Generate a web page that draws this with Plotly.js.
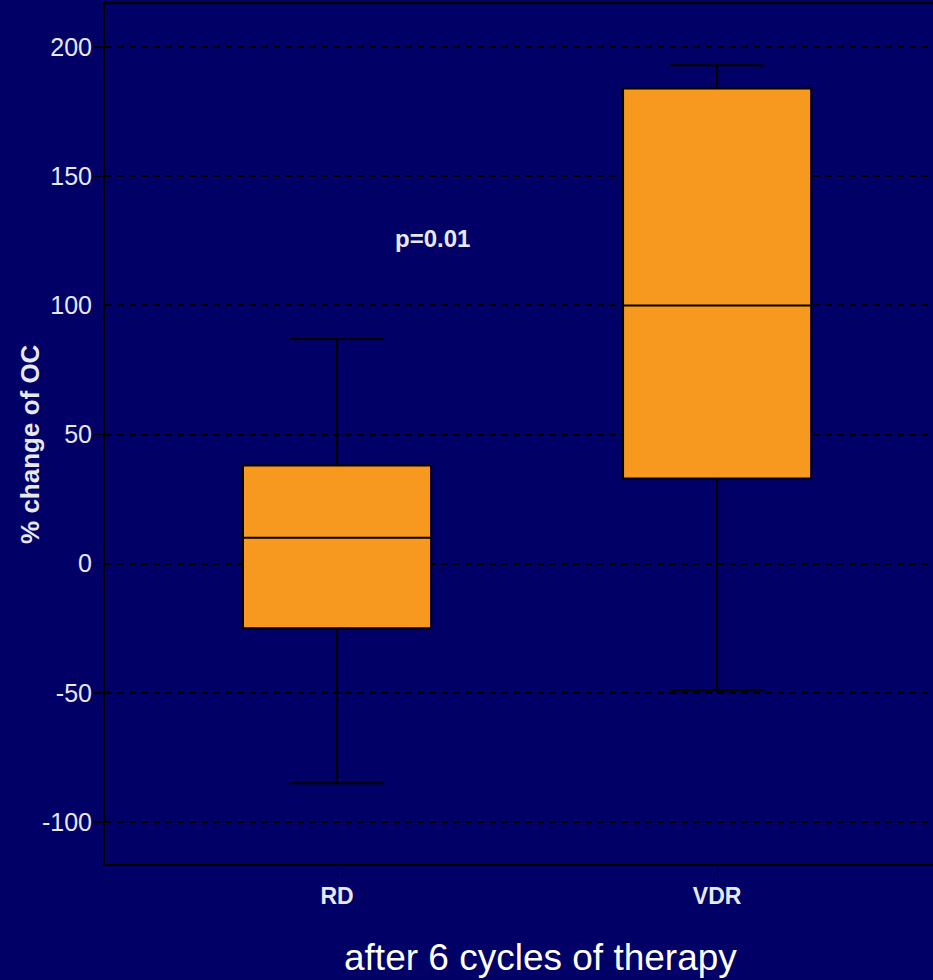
<!DOCTYPE html>
<html>
<head>
<meta charset="utf-8">
<script src="https://cdn.plot.ly/plotly-3.0.1.min.js"></script>
<style>
  html, body { margin: 0; padding: 0; background: #000066; }
  #chart { width: 933px; height: 980px; }
</style>
</head>
<body>
<div id="chart"></div>
<script>
// Treatment groups and the five-number summaries of % change of OC
var groups = ['RD', 'VDR'];
var lowerWhisker = [-85, -49];
var q1Values = [-25, 33];
var medianValues = [10, 100];
var q3Values = [38, 184];
var upperWhisker = [87, 193];

var yTicks = [-100, -50, 0, 50, 100, 150, 200];
var pValueText = 'p=0.01';

var NAVY = '#000066';
var ORANGE = '#F7991F';
var TEXT = '#E8E8F0';
var FONT = 'Liberation Sans, Arial, sans-serif';

var trace = {
  type: 'box',
  x: groups,
  q1: q1Values,
  median: medianValues,
  q3: q3Values,
  lowerfence: lowerWhisker,
  upperfence: upperWhisker,
  boxpoints: false,
  fillcolor: ORANGE,
  line: { color: '#000000', width: 2 },
  width: 0.495,
  whiskerwidth: 0.5,
  hoverinfo: 'skip',
  showlegend: false
};

var layout = {
  width: 933,
  height: 980,
  paper_bgcolor: NAVY,
  plot_bgcolor: NAVY,
  margin: { l: 105, r: 0, t: 4, b: 116 },
  showlegend: false,
  xaxis: {
    type: 'category',
    range: [-0.6105, 1.568],
    showline: true,
    linecolor: '#000000',
    linewidth: 2,
    mirror: true,
    showgrid: false,
    zeroline: false,
    ticks: 'outside',
    ticklen: 10,
    tickwidth: 1,
    tickcolor: '#000000',
    tickfont: { family: FONT, size: 23, color: TEXT, weight: 'bold' }
  },
  yaxis: {
    range: [-116.3, 216.7],
    tickvals: yTicks,
    ticktext: yTicks.map(String),
    showline: true,
    linecolor: '#000000',
    linewidth: 2,
    showgrid: true,
    gridcolor: '#000000',
    gridwidth: 2,
    griddash: '7px,5px',
    zeroline: false,
    ticks: 'outside',
    ticklen: 10,
    tickwidth: 1.5,
    tickcolor: '#000000',
    ticklabelstandoff: -4,
    tickfont: { family: FONT, size: 25, color: TEXT }
  },
  annotations: [
    {
      xref: 'x', yref: 'y', x: 0.25, y: 126,
      text: pValueText, showarrow: false,
      font: { family: FONT, size: 24, color: TEXT, weight: 'bold' }
    },
    {
      xref: 'paper', yref: 'paper', x: -0.0906, y: 0.4884,
      xanchor: 'center', yanchor: 'middle', textangle: -90,
      text: '% change of OC', showarrow: false,
      font: { family: FONT, size: 26, color: TEXT, weight: 'bold' }
    },
    {
      xref: 'paper', yref: 'paper', x: 0.5254, y: -0.1093,
      xanchor: 'center', yanchor: 'middle',
      text: 'after 6 cycles of therapy', showarrow: false,
      font: { family: FONT, size: 37, color: '#FFFFFF' }
    }
  ]
};

Plotly.newPlot('chart', [trace], layout, { staticPlot: true, displayModeBar: false });
</script>
</body>
</html>
